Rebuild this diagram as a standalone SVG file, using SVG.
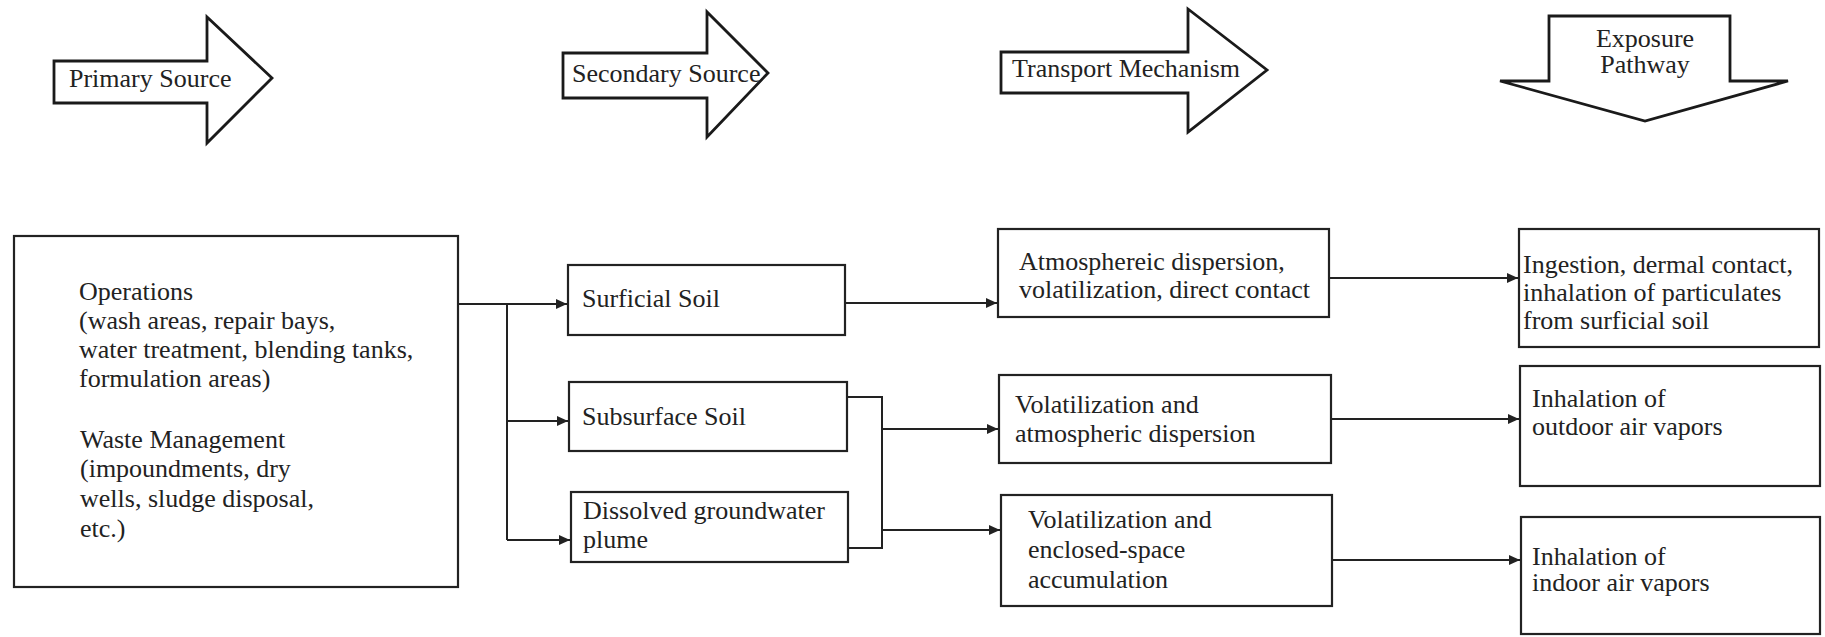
<svg xmlns="http://www.w3.org/2000/svg" width="1825" height="637" viewBox="0 0 1825 637">
<defs>
<style>
.bg{fill:#ffffff}
.box{fill:#ffffff;stroke:#222;stroke-width:2.2}
.big{fill:#ffffff;stroke:#1a1a1a;stroke-width:2.8;stroke-linejoin:miter}
.t{font-family:"Liberation Serif","Times New Roman",serif;font-size:26px;fill:#222}
.c{fill:none;stroke:#222;stroke-width:2}
</style>
<marker id="ah" markerUnits="userSpaceOnUse" markerWidth="11" markerHeight="10" refX="11" refY="5" orient="auto">
<path d="M0,0 L11,5 L0,10 z" fill="#222"/>
</marker>
</defs>
<rect class="bg" x="0" y="0" width="1825" height="637"/>

<g id="hdr-primary">
<polygon class="big" points="54,61 207,61 207,17 272,78 207,143 207,103 54,103"/>
<text class="t" x="69" y="87">Primary Source</text>
</g>
<g id="hdr-secondary">
<polygon class="big" points="563,53 707,53 707,12 768,73 707,137 707,98 563,98"/>
<text class="t" x="572" y="82">Secondary Source</text>
</g>
<g id="hdr-transport">
<polygon class="big" points="1001,52 1188,52 1188,9 1267,70 1188,132 1188,93 1001,93"/>
<text class="t" x="1012" y="77">Transport Mechanism</text>
</g>
<g id="hdr-exposure">
<polygon class="big" points="1549,16 1730,16 1730,81 1788,81 1645,121 1500,81 1549,81"/>
<text class="t" x="1645" y="47" text-anchor="middle">Exposure</text>
<text class="t" x="1645" y="73" text-anchor="middle">Pathway</text>
</g>

<g id="primary">
<rect class="box" x="14" y="236" width="444" height="351"/>
<text class="t" x="79" y="300">Operations</text>
<text class="t" x="79" y="329">(wash areas, repair bays,</text>
<text class="t" x="79" y="358">water treatment, blending tanks,</text>
<text class="t" x="79" y="387">formulation areas)</text>
<text class="t" x="80" y="448">Waste Management</text>
<text class="t" x="80" y="477">(impoundments, dry</text>
<text class="t" x="80" y="507">wells, sludge disposal,</text>
<text class="t" x="80" y="537">etc.)</text>
</g>

<g id="surficial">
<rect class="box" x="568" y="265" width="277" height="70"/>
<text class="t" x="582" y="307">Surficial Soil</text>
</g>
<g id="subsurface">
<rect class="box" x="569" y="382" width="278" height="69"/>
<text class="t" x="582" y="425">Subsurface Soil</text>
</g>
<g id="groundwater">
<rect class="box" x="571" y="492" width="277" height="70"/>
<text class="t" x="583" y="519">Dissolved groundwater</text>
<text class="t" x="583" y="548">plume</text>
</g>

<g id="t-atmos">
<rect class="box" x="998" y="229" width="331" height="88"/>
<text class="t" x="1019" y="270">Atmosphereic dispersion,</text>
<text class="t" x="1019" y="298">volatilization, direct contact</text>
</g>
<g id="t-volat">
<rect class="box" x="999" y="375" width="332" height="88"/>
<text class="t" x="1015" y="413">Volatilization and</text>
<text class="t" x="1015" y="442">atmospheric dispersion</text>
</g>
<g id="t-enclosed">
<rect class="box" x="1001" y="495" width="331" height="111"/>
<text class="t" x="1028" y="528">Volatilization and</text>
<text class="t" x="1028" y="558">enclosed-space</text>
<text class="t" x="1028" y="588">accumulation</text>
</g>

<g id="e-ingestion">
<rect class="box" x="1519" y="229" width="300" height="118"/>
<text class="t" x="1523" y="273">Ingestion, dermal contact,</text>
<text class="t" x="1523" y="301">inhalation of particulates</text>
<text class="t" x="1523" y="329">from surficial soil</text>
</g>
<g id="e-outdoor">
<rect class="box" x="1520" y="366" width="300" height="120"/>
<text class="t" x="1532" y="407">Inhalation of</text>
<text class="t" x="1532" y="435">outdoor air vapors</text>
</g>
<g id="e-indoor">
<rect class="box" x="1521" y="517" width="299" height="117"/>
<text class="t" x="1532" y="565">Inhalation of</text>
<text class="t" x="1532" y="591">indoor air vapors</text>
</g>

<g id="connectors">
<path class="c" d="M458,304 H567" marker-end="url(#ah)"/>
<path class="c" d="M507,304 V540"/>
<path class="c" d="M507,421 H568" marker-end="url(#ah)"/>
<path class="c" d="M507,540 H570" marker-end="url(#ah)"/>
<path class="c" d="M845,303 H997" marker-end="url(#ah)"/>
<path class="c" d="M847,397 H882 V548 H848"/>
<path class="c" d="M882,429 H998" marker-end="url(#ah)"/>
<path class="c" d="M882,530 H1000" marker-end="url(#ah)"/>
<path class="c" d="M1329,278 H1518" marker-end="url(#ah)"/>
<path class="c" d="M1331,419 H1519" marker-end="url(#ah)"/>
<path class="c" d="M1332,560 H1520" marker-end="url(#ah)"/>
</g>
</svg>
